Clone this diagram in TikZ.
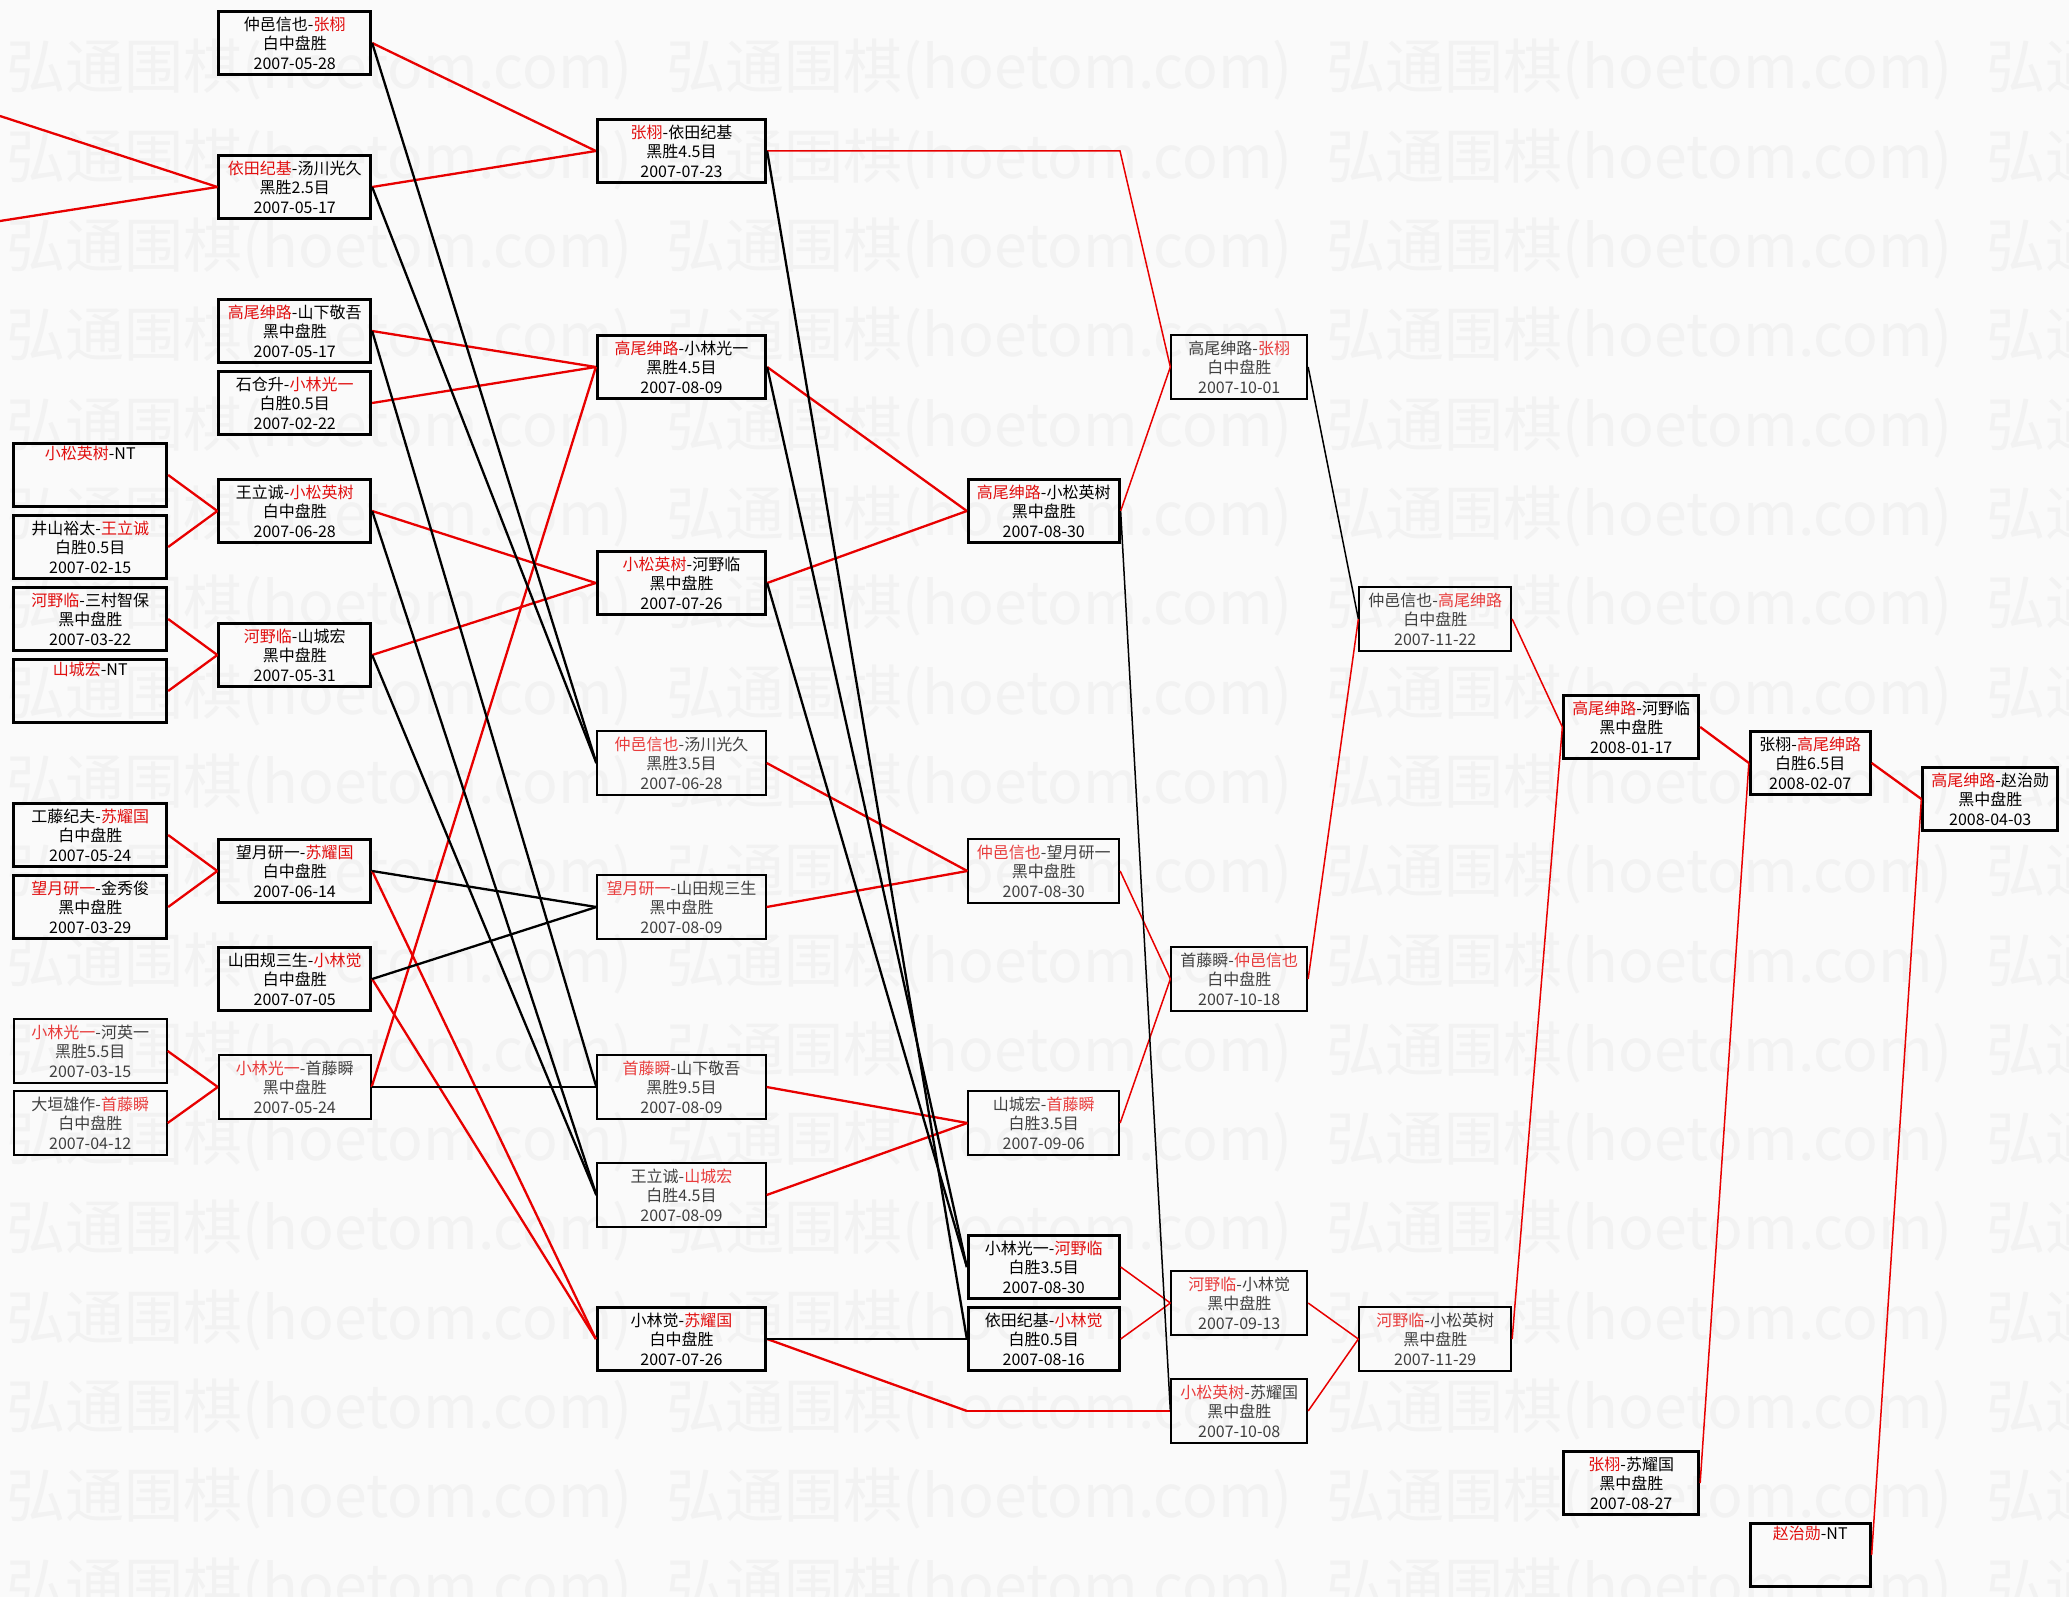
\documentclass[tikz,border=0pt]{standalone}
\usepackage{fontspec}
\newfontfamily\cjk{Noto Sans CJK SC}
\definecolor{wred}{RGB}{225,15,15}
\definecolor{lred}{RGB}{232,60,60}
\definecolor{linered}{RGB}{232,0,0}
\definecolor{bgc}{RGB}{250,250,250}
\definecolor{wmc}{RGB}{242,242,242}
\newcommand{\R}[1]{\textcolor{wred}{#1}}
\newcommand{\Rl}[1]{\textcolor{lred}{#1}}
\tikzset{
  game/.style={draw=black, line width=2.8pt, rectangle, inner sep=0pt, minimum height=63pt,
    align=center, font=\cjk\fontsize{16}{19.5}\selectfont, text=black},
  gamelt/.style={game, line width=1.8pt, minimum height=64pt, text=black!75},
  wa/.style={minimum width=153pt}, wb/.style={minimum width=152pt},
  wc/.style={minimum width=168.5pt}, wd/.style={minimum width=151pt},
  we/.style={minimum width=136pt}, wf/.style={minimum width=152pt},
  wg/.style={minimum width=135pt}, wh/.style={minimum width=120pt},
  wi/.style={minimum width=135pt},
  win/.style={draw=linered, line width=2.3pt},
  winlt/.style={draw=linered, line width=1.5pt},
  lose/.style={draw=black, line width=2.3pt},
  loselt/.style={draw=black, line width=1.5pt},
  wmark/.style={font=\cjk\fontsize{59}{59}\selectfont, text=wmc, anchor=west, inner sep=0pt},
}
\begin{document}
\begin{tikzpicture}[x=1pt,y=-1pt]
\useasboundingbox (0,0) rectangle (2069,1597);
\fill[bgc] (0,0) rectangle (2069,1597);
% watermark
\foreach \r in {0,...,17}{
  \foreach \c in {0,...,3}{
    \node[wmark] (wm-\r-\c) at ({6.6+660*\c},{70+89.3*\r}) {弘通围棋(hoetom.com)};
  }
}
% column 1
\node[game,wa] (A1) at (90.25,475) {\R{小松英树}-NT\\\strut\\\strut};
\node[game,wa] (A2) at (90.25,547) {井山裕太-\R{王立诚}\\白胜0.5目\\2007-02-15};
\node[game,wa] (A3) at (90.25,619) {\R{河野临}-三村智保\\黑中盘胜\\2007-03-22};
\node[game,wa] (A4) at (90.25,691) {\R{山城宏}-NT\\\strut\\\strut};
\node[game,wa] (A5) at (90.25,835) {工藤纪夫-\R{苏耀国}\\白中盘胜\\2007-05-24};
\node[game,wa] (A6) at (90.25,907) {\R{望月研一}-金秀俊\\黑中盘胜\\2007-03-29};
\node[gamelt,wa] (A7) at (90.25,1051) {\Rl{小林光一}-河英一\\黑胜5.5目\\2007-03-15};
\node[gamelt,wa] (A8) at (90.25,1123) {大垣雄作-\Rl{首藤瞬}\\白中盘胜\\2007-04-12};
% column 2
\node[game,wb] (B1) at (294.75,43) {仲邑信也-\R{张栩}\\白中盘胜\\2007-05-28};
\node[game,wb] (B2) at (294.75,187) {\R{依田纪基}-汤川光久\\黑胜2.5目\\2007-05-17};
\node[game,wb] (B3) at (294.75,331) {\R{高尾绅路}-山下敬吾\\黑中盘胜\\2007-05-17};
\node[game,wb] (B4) at (294.75,403) {石仓升-\R{小林光一}\\白胜0.5目\\2007-02-22};
\node[game,wb] (B5) at (294.75,511) {王立诚-\R{小松英树}\\白中盘胜\\2007-06-28};
\node[game,wb] (B6) at (294.75,655) {\R{河野临}-山城宏\\黑中盘胜\\2007-05-31};
\node[game,wb] (B7) at (294.75,871) {望月研一-\R{苏耀国}\\白中盘胜\\2007-06-14};
\node[game,wb] (B8) at (294.75,979) {山田规三生-\R{小林觉}\\白中盘胜\\2007-07-05};
\node[gamelt,wb] (B9) at (294.75,1087) {\Rl{小林光一}-首藤瞬\\黑中盘胜\\2007-05-24};
% column 3
\node[game,wc] (C1) at (681.5,151) {\R{张栩}-依田纪基\\黑胜4.5目\\2007-07-23};
\node[game,wc] (C2) at (681.5,367) {\R{高尾绅路}-小林光一\\黑胜4.5目\\2007-08-09};
\node[game,wc] (C3) at (681.5,583) {\R{小松英树}-河野临\\黑中盘胜\\2007-07-26};
\node[gamelt,wc] (C4) at (681.5,763) {\Rl{仲邑信也}-汤川光久\\黑胜3.5目\\2007-06-28};
\node[gamelt,wc] (C5) at (681.5,907) {\Rl{望月研一}-山田规三生\\黑中盘胜\\2007-08-09};
\node[gamelt,wc] (C6) at (681.5,1087) {\Rl{首藤瞬}-山下敬吾\\黑胜9.5目\\2007-08-09};
\node[gamelt,wc] (C7) at (681.5,1195) {王立诚-\Rl{山城宏}\\白胜4.5目\\2007-08-09};
\node[game,wc] (C8) at (681.5,1339) {小林觉-\R{苏耀国}\\白中盘胜\\2007-07-26};
% column 4
\node[game,wd] (D1) at (1043.75,511) {\R{高尾绅路}-小松英树\\黑中盘胜\\2007-08-30};
\node[gamelt,wd] (D2) at (1043.75,871) {\Rl{仲邑信也}-望月研一\\黑中盘胜\\2007-08-30};
\node[gamelt,wd] (D3) at (1043.75,1123) {山城宏-\Rl{首藤瞬}\\白胜3.5目\\2007-09-06};
\node[game,wd] (D4) at (1043.75,1267) {小林光一-\R{河野临}\\白胜3.5目\\2007-08-30};
\node[game,wd] (D5) at (1043.75,1339) {依田纪基-\R{小林觉}\\白胜0.5目\\2007-08-16};
% column 5
\node[gamelt,we] (E1) at (1239.25,367) {高尾绅路-\Rl{张栩}\\白中盘胜\\2007-10-01};
\node[gamelt,we] (E2) at (1239.25,979) {首藤瞬-\Rl{仲邑信也}\\白中盘胜\\2007-10-18};
\node[gamelt,we] (E3) at (1239.25,1303) {\Rl{河野临}-小林觉\\黑中盘胜\\2007-09-13};
\node[gamelt,we] (E4) at (1239.25,1411) {\Rl{小松英树}-苏耀国\\黑中盘胜\\2007-10-08};
% column 6
\node[gamelt,wf] (F1) at (1435.25,619) {仲邑信也-\Rl{高尾绅路}\\白中盘胜\\2007-11-22};
\node[gamelt,wf] (F2) at (1435.25,1339) {\Rl{河野临}-小松英树\\黑中盘胜\\2007-11-29};
% column 7
\node[game,wg] (G1) at (1631.25,727) {\R{高尾绅路}-河野临\\黑中盘胜\\2008-01-17};
\node[game,wg] (G2) at (1631.25,1483) {\R{张栩}-苏耀国\\黑中盘胜\\2007-08-27};
% column 8
\node[game,wh] (H1) at (1810.25,763) {张栩-\R{高尾绅路}\\白胜6.5目\\2008-02-07};
\node[game,wh] (H2) at (1810.25,1555) {\R{赵治勋}-NT\\\strut\\\strut};
% column 9
\node[game,wi] (I1) at (1990.25,799) {\R{高尾绅路}-赵治勋\\黑中盘胜\\2008-04-03};
% free ends and bends
\coordinate (L1) at (0,116);
\coordinate (L2) at (0,221);
\coordinate (c1bend) at (1120,151);
\coordinate (c8bend) at (967,1411);
% winner lines (red)
\draw[win] (L1) -- (B2.west);
\draw[win] (L2) -- (B2.west);
\draw[win] (A1.east) -- (B5.west);
\draw[win] (A2.east) -- (B5.west);
\draw[win] (A3.east) -- (B6.west);
\draw[win] (A4.east) -- (B6.west);
\draw[win] (A5.east) -- (B7.west);
\draw[win] (A6.east) -- (B7.west);
\draw[win] (A7.east) -- (B9.west);
\draw[win] (A8.east) -- (B9.west);
\draw[win] (B1.east) -- (C1.west);
\draw[win] (B2.east) -- (C1.west);
\draw[win] (B3.east) -- (C2.west);
\draw[win] (B4.east) -- (C2.west);
\draw[win] (B9.east) -- (C2.west);
\draw[win] (B5.east) -- (C3.west);
\draw[win] (B6.east) -- (C3.west);
\draw[win] (B7.east) -- (C8.west);
\draw[win] (B8.east) -- (C8.west);
\draw[win] (C2.east) -- (D1.west);
\draw[win] (C3.east) -- (D1.west);
\draw[win] (C4.east) -- (D2.west);
\draw[win] (C5.east) -- (D2.west);
\draw[win] (C6.east) -- (D3.west);
\draw[win] (C7.east) -- (D3.west);
\draw[winlt] (C1.east) -- (c1bend) -- (E1.west);
\draw[winlt] (D1.east) -- (E1.west);
\draw[winlt] (D2.east) -- (E2.west);
\draw[winlt] (D3.east) -- (E2.west);
\draw[winlt] (D4.east) -- (E3.west);
\draw[winlt] (D5.east) -- (E3.west);
\draw[win] (C8.east) -- (c8bend);
\draw[winlt] (c8bend) -- (E4.west);
\draw[winlt] (E2.east) -- (F1.west);
\draw[winlt] (E3.east) -- (F2.west);
\draw[winlt] (E4.east) -- (F2.west);
\draw[winlt] (F1.east) -- (G1.west);
\draw[winlt] (F2.east) -- (G1.west);
\draw[win] (G1.east) -- (H1.west);
\draw[winlt] (G2.east) -- (H1.west);
\draw[win] (H1.east) -- (I1.west);
\draw[winlt] (H2.east) -- (I1.west);
% loser lines (black)
\draw[lose] (B1.east) -- (C4.west);
\draw[lose] (B2.east) -- (C4.west);
\draw[lose] (B3.east) -- (C6.west);
\draw[lose] (B9.east) -- (C6.west);
\draw[lose] (B5.east) -- (C7.west);
\draw[lose] (B6.east) -- (C7.west);
\draw[lose] (B7.east) -- (C5.west);
\draw[lose] (B8.east) -- (C5.west);
\draw[lose] (C1.east) -- (D5.west);
\draw[lose] (C2.east) -- (D4.west);
\draw[lose] (C3.east) -- (D4.west);
\draw[lose] (C8.east) -- (D5.west);
\draw[loselt] (D1.east) -- (E4.west);
\draw[loselt] (E1.east) -- (F1.west);
\end{tikzpicture}
\end{document}
